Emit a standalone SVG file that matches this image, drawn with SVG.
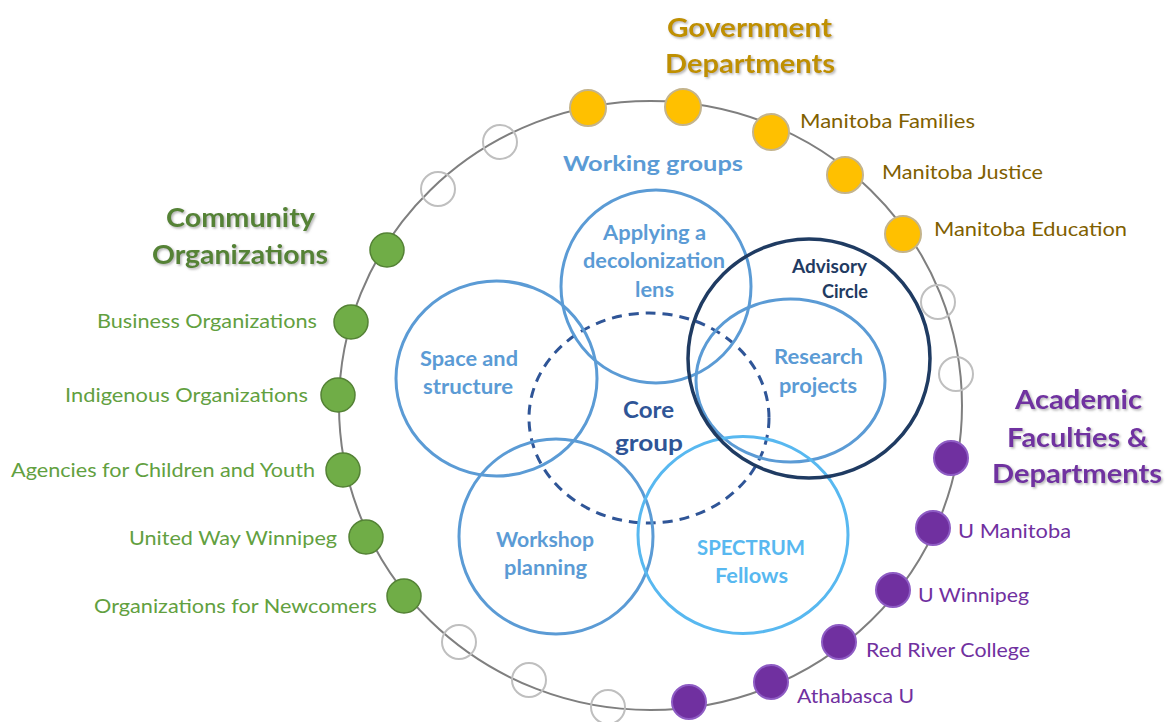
<svg xmlns="http://www.w3.org/2000/svg" width="1166" height="722" viewBox="0 0 1166 722">
<defs>
<filter id="sh" x="-10%" y="-30%" width="130%" height="160%">
<feDropShadow dx="1.5" dy="1.5" stdDeviation="1" flood-color="#7f7f7f" flood-opacity="0.6"/>
</filter>
<style>
text{font-family:Lato,"Open Sans","Liberation Sans",sans-serif;}
.hd{font-size:26px;font-weight:bold;text-anchor:middle;filter:url(#sh);}
.it{font-size:20px;}
.in{font-size:20px;font-weight:bold;text-anchor:middle;fill:#5B9BD5;}
.wg{fill:none;stroke:#5B9BD5;stroke-width:3;}
.yd{fill:#FFC000;stroke:#C4B48C;stroke-width:2;}
.gd{fill:#70AD47;stroke:#548235;stroke-width:1.5;}
.pd{fill:#7030A0;stroke:#8E5CC4;stroke-width:2;}
.ho{fill:none;stroke:#BFBFBF;stroke-width:2;}
</style>
</defs>
<rect width="1166" height="722" fill="#ffffff"/>

<g id="connectors">
<ellipse cx="650.5" cy="405.5" rx="311.5" ry="304.5" fill="none" stroke="#7F7F7F" stroke-width="2"/>
</g>

<g id="hollow-dots">
<circle class="ho" cx="438" cy="189" r="17"/>
<circle class="ho" cx="500" cy="142" r="17"/>
<circle class="ho" cx="938" cy="302" r="17"/>
<circle class="ho" cx="956" cy="374" r="17"/>
<circle class="ho" cx="459" cy="642" r="17"/>
<circle class="ho" cx="529" cy="680" r="17"/>
<circle class="ho" cx="608" cy="707" r="17"/>
</g>

<g id="government-heading">
<text class="hd" fill="#BF9000" x="749.5" y="37" textLength="165" lengthAdjust="spacingAndGlyphs">Government</text>
<text class="hd" fill="#BF9000" x="750" y="73" textLength="170" lengthAdjust="spacingAndGlyphs">Departments</text>
</g>
<g id="gov-dot-1"><circle class="yd" cx="588" cy="108" r="18"/></g>
<g id="gov-dot-2"><circle class="yd" cx="683" cy="107" r="18"/></g>
<g id="manitoba-families"><circle class="yd" cx="771" cy="132" r="18"/>
<text class="it" fill="#7F6000" x="800" y="128" textLength="175" lengthAdjust="spacingAndGlyphs">Manitoba Families</text></g>
<g id="manitoba-justice"><circle class="yd" cx="845" cy="175" r="18"/>
<text class="it" fill="#7F6000" x="882" y="179" textLength="161" lengthAdjust="spacingAndGlyphs">Manitoba Justice</text></g>
<g id="manitoba-education"><circle class="yd" cx="903" cy="234" r="18"/>
<text class="it" fill="#7F6000" x="934" y="236" textLength="193" lengthAdjust="spacingAndGlyphs">Manitoba Education</text></g>

<g id="community-heading">
<text class="hd" fill="#548235" x="240.5" y="227" textLength="149" lengthAdjust="spacingAndGlyphs">Community</text>
<text class="hd" fill="#548235" x="240" y="264" textLength="176" lengthAdjust="spacingAndGlyphs">Organizations</text>
</g>
<g id="community-dot-1"><circle class="gd" cx="387" cy="250" r="17"/></g>
<g id="business-organizations"><circle class="gd" cx="351" cy="322" r="17"/>
<text class="it" fill="#62A040" x="97" y="328" textLength="220" lengthAdjust="spacingAndGlyphs">Business Organizations</text></g>
<g id="indigenous-organizations"><circle class="gd" cx="338" cy="395" r="17"/>
<text class="it" fill="#62A040" x="65" y="402" textLength="243" lengthAdjust="spacingAndGlyphs">Indigenous Organizations</text></g>
<g id="agencies-children-youth"><circle class="gd" cx="343" cy="470" r="17"/>
<text class="it" fill="#62A040" x="11" y="477" textLength="304" lengthAdjust="spacingAndGlyphs">Agencies for Children and Youth</text></g>
<g id="united-way-winnipeg"><circle class="gd" cx="366" cy="537" r="17"/>
<text class="it" fill="#62A040" x="129" y="545" textLength="208" lengthAdjust="spacingAndGlyphs">United Way Winnipeg</text></g>
<g id="organizations-newcomers"><circle class="gd" cx="404" cy="596" r="17"/>
<text class="it" fill="#62A040" x="94" y="613" textLength="283" lengthAdjust="spacingAndGlyphs">Organizations for Newcomers</text></g>

<g id="academic-heading">
<text class="hd" fill="#7030A0" x="1078.5" y="409" textLength="127" lengthAdjust="spacingAndGlyphs">Academic</text>
<text class="hd" fill="#7030A0" x="1077.5" y="447" textLength="141" lengthAdjust="spacingAndGlyphs">Faculties &amp;</text>
<text class="hd" fill="#7030A0" x="1077" y="483" textLength="170" lengthAdjust="spacingAndGlyphs">Departments</text>
</g>
<g id="academic-dot-1"><circle class="pd" cx="951" cy="458" r="17"/></g>
<g id="u-manitoba"><circle class="pd" cx="933" cy="528" r="17"/>
<text class="it" fill="#7030A0" x="958" y="538" textLength="113" lengthAdjust="spacingAndGlyphs">U Manitoba</text></g>
<g id="u-winnipeg"><circle class="pd" cx="893" cy="590" r="17"/>
<text class="it" fill="#7030A0" x="918" y="602" textLength="111" lengthAdjust="spacingAndGlyphs">U Winnipeg</text></g>
<g id="red-river-college"><circle class="pd" cx="839" cy="642" r="17"/>
<text class="it" fill="#7030A0" x="866" y="657" textLength="164" lengthAdjust="spacingAndGlyphs">Red River College</text></g>
<g id="athabasca-u"><circle class="pd" cx="771" cy="682" r="17"/>
<text class="it" fill="#7030A0" x="797" y="703" textLength="117" lengthAdjust="spacingAndGlyphs">Athabasca U</text></g>
<g id="academic-dot-6"><circle class="pd" cx="689" cy="702" r="17"/></g>

<g id="working-groups-title">
<text class="in" x="653" y="171" textLength="180" lengthAdjust="spacingAndGlyphs" style="font-size:21px">Working groups</text>
</g>

<g id="core-group">
<ellipse cx="649" cy="418" rx="120" ry="105" fill="none" stroke="#2F5597" stroke-width="3" stroke-dasharray="10 7"/>
<text class="in" fill="#2F5597" style="fill:#2F5597;font-size:23px" x="648.5" y="418" textLength="51" lengthAdjust="spacingAndGlyphs">Core</text>
<text class="in" style="fill:#2F5597;font-size:23px" x="649" y="451" textLength="68" lengthAdjust="spacingAndGlyphs">group</text>
</g>

<g id="applying-decolonization-lens">
<ellipse class="wg" cx="656" cy="286.5" rx="95" ry="96.5"/>
<text class="in" x="654.5" y="240" textLength="103" lengthAdjust="spacingAndGlyphs">Applying a</text>
<text class="in" x="654" y="268" textLength="142" lengthAdjust="spacingAndGlyphs">decolonization</text>
<text class="in" x="654.5" y="297" textLength="39" lengthAdjust="spacingAndGlyphs">lens</text>
</g>

<g id="space-and-structure">
<ellipse class="wg" cx="496.5" cy="378.5" rx="100.5" ry="97.5"/>
<text class="in" x="469" y="366" textLength="98" lengthAdjust="spacingAndGlyphs">Space and</text>
<text class="in" x="468" y="394" textLength="90" lengthAdjust="spacingAndGlyphs">structure</text>
</g>

<g id="research-projects">
<ellipse class="wg" cx="790.5" cy="380.5" rx="94.5" ry="81.5"/>
<text class="in" x="818.5" y="364" textLength="89" lengthAdjust="spacingAndGlyphs">Research</text>
<text class="in" x="818" y="393" textLength="78" lengthAdjust="spacingAndGlyphs">projects</text>
</g>

<g id="workshop-planning">
<ellipse class="wg" cx="556" cy="536.5" rx="97" ry="97.5"/>
<text class="in" x="545" y="547" textLength="98" lengthAdjust="spacingAndGlyphs">Workshop</text>
<text class="in" x="545.5" y="575" textLength="83" lengthAdjust="spacingAndGlyphs">planning</text>
</g>

<g id="spectrum-fellows">
<ellipse cx="743" cy="535" rx="105" ry="98.5" fill="none" stroke="#58B8F0" stroke-width="3"/>
<text class="in" style="fill:#58B8F0" x="751" y="555" textLength="108" lengthAdjust="spacingAndGlyphs">SPECTRUM</text>
<text class="in" style="fill:#58B8F0" x="751.5" y="583" textLength="73" lengthAdjust="spacingAndGlyphs">Fellows</text>
</g>

<g id="advisory-circle">
<ellipse cx="809" cy="358.5" rx="121" ry="119.5" fill="none" stroke="#1F3B62" stroke-width="3.5"/>
<text class="in" style="fill:#1F3B62;font-size:18px;text-anchor:end" x="867" y="273" textLength="75" lengthAdjust="spacingAndGlyphs">Advisory</text>
<text class="in" style="fill:#1F3B62;font-size:18px;text-anchor:end" x="868" y="298" textLength="46" lengthAdjust="spacingAndGlyphs">Circle</text>
</g>
</svg>
